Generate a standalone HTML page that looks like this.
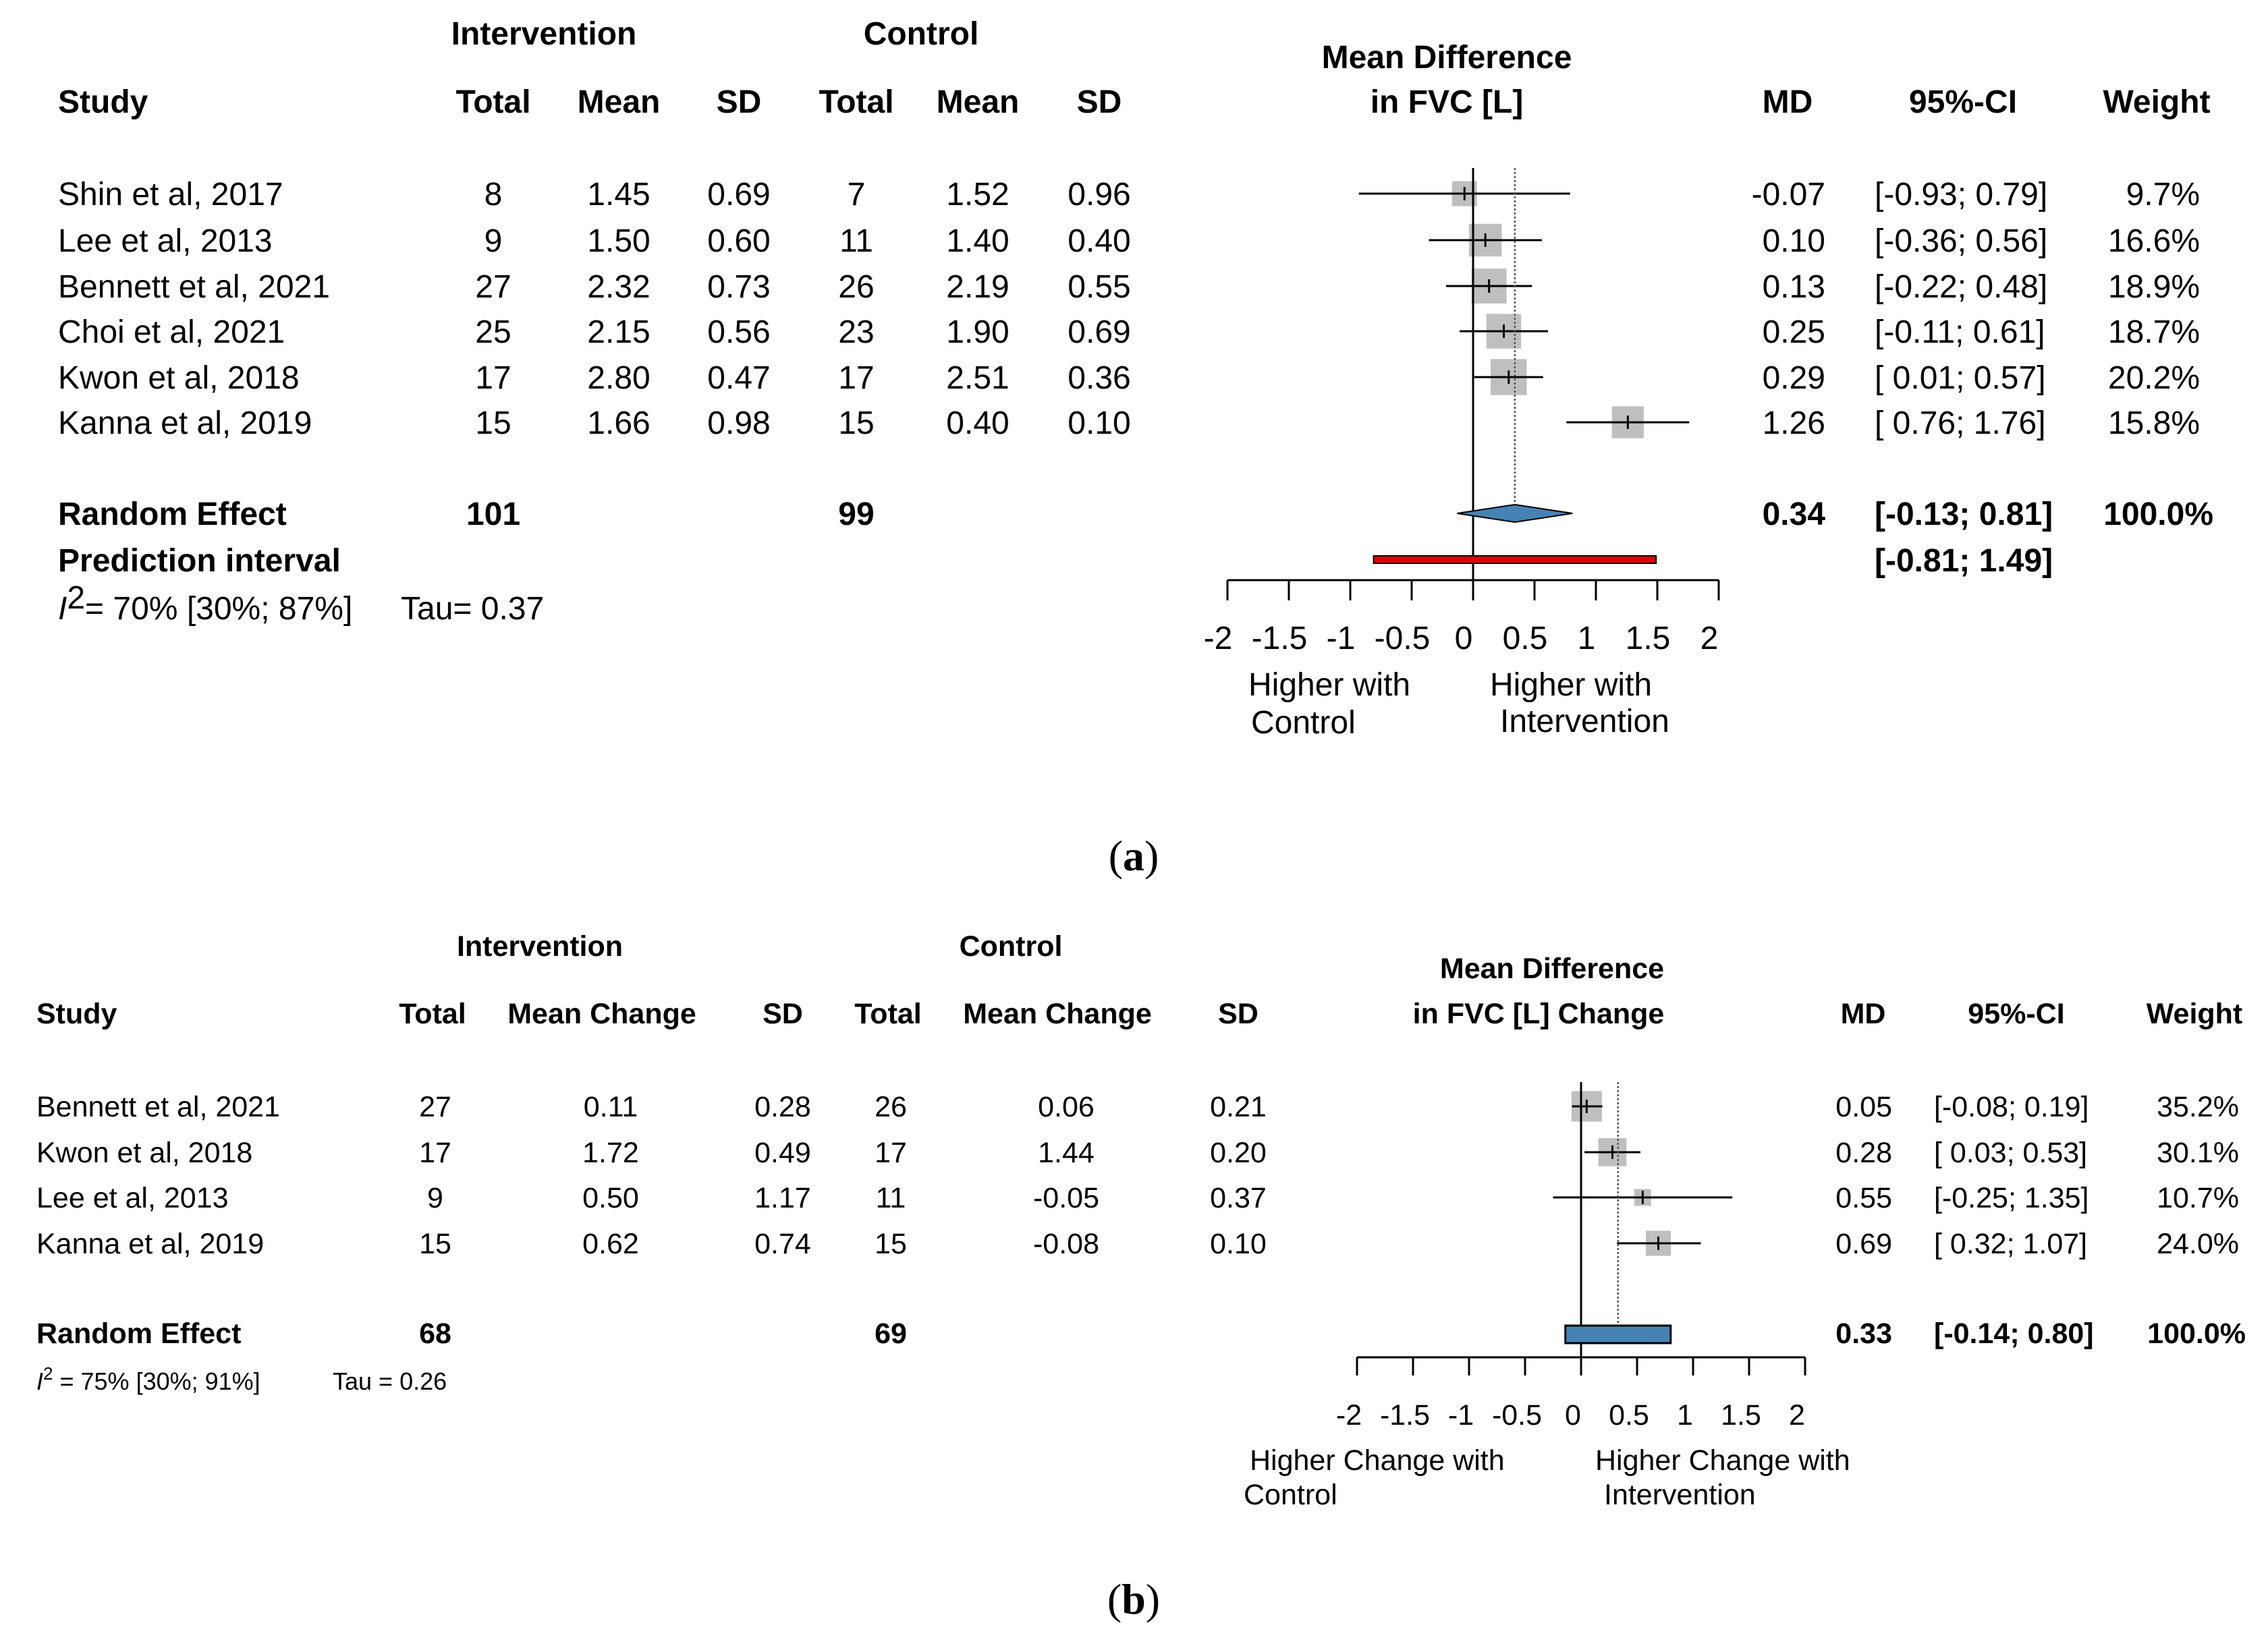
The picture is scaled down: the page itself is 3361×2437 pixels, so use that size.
<!DOCTYPE html>
<html><head><meta charset="utf-8"><style>
html,body{margin:0;padding:0;background:#fff}
svg{display:block}
text{font-family:"Liberation Sans",sans-serif;fill:#000}
.b{font-weight:bold}
</style></head><body>
<svg id="fig" width="3361" height="2437" viewBox="0 0 3361 2437" xmlns="http://www.w3.org/2000/svg">
<g id="pa" font-size="48"></g>
<g id="pb" font-size="43"></g>
<text x="1680" y="1290" font-size="64" text-anchor="middle" style="font-family:'Liberation Serif',serif">(<tspan font-weight="bold">a</tspan>)</text>
<text x="1680" y="2392" font-size="64" text-anchor="middle" style="font-family:'Liberation Serif',serif">(<tspan font-weight="bold">b</tspan>)</text>
</svg>
<script>
// ---- Panel A data ----
const aStudies=["Shin et al, 2017","Lee et al, 2013","Bennett et al, 2021","Choi et al, 2021","Kwon et al, 2018","Kanna et al, 2019"];
const aIntTotal=[8,9,27,25,17,15];
const aIntMean=["1.45","1.50","2.32","2.15","2.80","1.66"];
const aIntSD=["0.69","0.60","0.73","0.56","0.47","0.98"];
const aCtlTotal=[7,11,26,23,17,15];
const aCtlMean=["1.52","1.40","2.19","1.90","2.51","0.40"];
const aCtlSD=["0.96","0.40","0.55","0.69","0.36","0.10"];
const aMD=[-0.07,0.10,0.13,0.25,0.29,1.26];
const aLo=[-0.93,-0.36,-0.22,-0.11,0.01,0.76];
const aHi=[0.79,0.56,0.48,0.61,0.57,1.76];
const aWeight=[9.7,16.6,18.9,18.7,20.2,15.8];
const aPooled=[0.34,-0.13,0.81];
const aPred=[-0.81,1.49];
const aTicks=[-2,-1.5,-1,-0.5,0,0.5,1,1.5,2];
// ---- Panel B data ----
const bStudies=["Bennett et al, 2021","Kwon et al, 2018","Lee et al, 2013","Kanna et al, 2019"];
const bIntTotal=[27,17,9,15];
const bIntMean=["0.11","1.72","0.50","0.62"];
const bIntSD=["0.28","0.49","1.17","0.74"];
const bCtlTotal=[26,17,11,15];
const bCtlMean=["0.06","1.44","-0.05","-0.08"];
const bCtlSD=["0.21","0.20","0.37","0.10"];
const bMD=[0.05,0.28,0.55,0.69];
const bLo=[-0.08,0.03,-0.25,0.32];
const bHi=[0.19,0.53,1.35,1.07];
const bWeight=[35.2,30.1,10.7,24.0];
const bPooled=[0.33,-0.14,0.80];
const bTicks=[-2,-1.5,-1,-0.5,0,0.5,1,1.5,2];

const NS="http://www.w3.org/2000/svg";
function mk(parent,tag,attrs,txt){const e=document.createElementNS(NS,tag);for(const k in attrs)e.setAttribute(k,attrs[k]);if(txt!==undefined)e.textContent=txt;parent.appendChild(e);return e;}
function f2(v){return (v<0?"-":"")+Math.abs(v).toFixed(2);}
function ci(lo,hi){const l=lo<0?"-"+Math.abs(lo).toFixed(2):" "+lo.toFixed(2);return "["+l+"; "+hi.toFixed(2)+"]";}
function pct(w){return w.toFixed(1)+"%";}

function panel(g,cfg){
  const sx=v=>cfg.x0+v*cfg.unit;
  const off=cfg.off;
  cfg.heads.forEach(h=>{const t=mk(g,"text",{x:h[0],y:h[1]+off,"text-anchor":h[3],class:"b"},h[2]);
    
    });
  cfg.studies.forEach((s,i)=>{
    const y=cfg.rows[i];
    const cells=[[cfg.cx.study,s,"start"],[cfg.cx.it,String(cfg.it[i]),"middle"],[cfg.cx.im,cfg.im[i],"middle"],[cfg.cx.is,cfg.is[i],"middle"],
      [cfg.cx.ct,String(cfg.ct[i]),"middle"],[cfg.cx.cm,cfg.cm[i],"middle"],[cfg.cx.cs,cfg.cs[i],"middle"],
      [cfg.cx.md,f2(cfg.md[i]),"end"],[cfg.cx.ci,ci(cfg.lo[i],cfg.hi[i]),"start"],[cfg.cx.w,pct(cfg.w[i]),"end"]];
    cells.forEach(c=>{const t=mk(g,"text",{x:c[0],y:y+off,"text-anchor":c[2],"xml:space":"preserve"},c[1]);
      
      });
    const side=cfg.k*Math.sqrt(cfg.w[i]);
    const sq=mk(g,"rect",{x:sx(cfg.md[i])-side/2,y:y-side/2,width:side,height:side,fill:"#bfbfbf"});
    
    
    const ln=mk(g,"line",{x1:sx(cfg.lo[i]),x2:sx(cfg.hi[i]),y1:y,y2:y,stroke:"#000","stroke-width":3});
    
    
    const tk=mk(g,"line",{x1:sx(cfg.md[i]),x2:sx(cfg.md[i]),y1:y-10,y2:y+10,stroke:"#000","stroke-width":3});
    
    
  });
  const z=mk(g,"line",{x1:sx(0),x2:sx(0),y1:cfg.top,y2:cfg.axisY,stroke:"#000","stroke-width":3});
  
  
  const d=mk(g,"line",{x1:sx(cfg.pool[0]),x2:sx(cfg.pool[0]),y1:cfg.top,y2:cfg.poolY-12,stroke:"#555","stroke-width":2.5,"stroke-dasharray":"3,3"});
  
  
  const ax=mk(g,"line",{x1:sx(cfg.ticks[0]),x2:sx(cfg.ticks[cfg.ticks.length-1]),y1:cfg.axisY,y2:cfg.axisY,stroke:"#000","stroke-width":3});
  
  
  cfg.ticks.forEach(v=>{
    const l=mk(g,"line",{x1:sx(v),x2:sx(v),y1:cfg.axisY,y2:cfg.axisY+cfg.tickLen,stroke:"#000","stroke-width":3});
    
    
    const t=mk(g,"text",{x:sx(v)-cfg.labShift,y:cfg.tickLabY,"text-anchor":"middle"},String(v));
    
    
  });
}

const pa=document.getElementById("pa");
const cfgA={x0:2183,unit:182,off:17,k:11.9,top:249,axisY:860,tickLen:30,tickLabY:962,labShift:14,poolY:761,
  rows:[287,356,424,491,559,626],studies:aStudies,it:aIntTotal,im:aIntMean,is:aIntSD,ct:aCtlTotal,cm:aCtlMean,cs:aCtlSD,
  md:aMD,lo:aLo,hi:aHi,w:aWeight,pool:aPooled,ticks:aTicks,
  cx:{study:86,it:731,im:917,is:1095,ct:1269,cm:1449,cs:1629,md:2705,ci:2778,w:3260},
  heads:[[806,49,"Intervention","middle"],[1365,49,"Control","middle"],[86,150,"Study","start"],[731,150,"Total","middle"],[917,150,"Mean","middle"],[1095,150,"SD","middle"],
   [1269,150,"Total","middle"],[1449,150,"Mean","middle"],[1629,150,"SD","middle"],[2144,84,"Mean Difference","middle"],[2144,150,"in FVC [L]","middle"],
   [2649,150,"MD","middle"],[2909,150,"95%-CI","middle"],[3196,150,"Weight","middle"]]};
panel(pa,cfgA);
{
  const sx=v=>cfgA.x0+v*cfgA.unit, y=761;
  const dm=mk(pa,"polygon",{points:`${sx(aPooled[1])},${y} ${sx(aPooled[0])},${y-13} ${sx(aPooled[2])},${y} ${sx(aPooled[0])},${y+13}`,fill:"#4682b4",stroke:"#000","stroke-width":2});
  
  
  const pr=mk(pa,"rect",{x:sx(aPred[0]),y:824,width:sx(aPred[1])-sx(aPred[0]),height:11,fill:"#e00000",stroke:"#000","stroke-width":2});
  
  
  const sum=[[86,778,"Random Effect","start",1],[731,778,"101","middle",1],[1269,778,"99","middle",1],[2705,778,f2(aPooled[0]),"end",1],[2778,778,ci(aPooled[1],aPooled[2]),"start",1],[3280,778,"100.0%","end",1],
    [86,847,"Prediction interval","start",1],[2778,847,ci(aPred[0],aPred[1]),"start",1],
    [1850,1031,"Higher with","start",0],[1854,1087,"Control","start",0],[2208,1031,"Higher with","start",0],[2223,1085,"Intervention","start",0],[594,918,"Tau= 0.37","start",0]];
  sum.forEach(s=>{const t=mk(pa,"text",{x:s[0],y:s[1],"text-anchor":s[3],class:s[4]?"b":"","xml:space":"preserve"},s[2]);
    
    });
  const i2=mk(pa,"text",{x:86,y:918});
  
  
  i2.innerHTML='<tspan font-style="italic">I</tspan><tspan dy="-16">2</tspan><tspan dy="16">= 70% [30%; 87%]</tspan>';
}

const pb=document.getElementById("pb");
const cfgB={x0:2343,unit:166,off:15,k:7.6,top:1604,axisY:2012,tickLen:27,tickLabY:2112,labShift:12,poolY:1978,
  rows:[1640,1708,1775,1843],studies:bStudies,it:bIntTotal,im:bIntMean,is:bIntSD,ct:bCtlTotal,cm:bCtlMean,cs:bCtlSD,
  md:bMD,lo:bLo,hi:bHi,w:bWeight,pool:bPooled,ticks:bTicks,
  cx:{study:54,it:645,im:905,is:1160,ct:1320,cm:1580,cs:1835,md:2804,ci:2866,w:3318},
  heads:[[800,1402,"Intervention","middle"],[1498,1402,"Control","middle"],[54,1502,"Study","start"],[641,1502,"Total","middle"],[892,1502,"Mean Change","middle"],[1160,1502,"SD","middle"],
   [1316,1502,"Total","middle"],[1567,1502,"Mean Change","middle"],[1835,1502,"SD","middle"],[2300,1435,"Mean Difference","middle"],[2280,1502,"in FVC [L] Change","middle"],
   [2761,1502,"MD","middle"],[2988,1502,"95%-CI","middle"],[3252,1502,"Weight","middle"]]};
panel(pb,cfgB);
{
  const sx=v=>cfgB.x0+v*cfgB.unit;
  const bx=mk(pb,"rect",{x:sx(bPooled[1]),y:1965,width:sx(bPooled[2])-sx(bPooled[1]),height:26,fill:"#4682b4",stroke:"#000","stroke-width":3});
  
  
  const sum=[[54,1991,"Random Effect","start",1],[645,1991,"68","middle",1],[1320,1991,"69","middle",1],[2804,1991,f2(bPooled[0]),"end",1],[2866,1991,ci(bPooled[1],bPooled[2]),"start",1],[3328,1991,"100.0%","end",1],
    [1852,2179,"Higher Change with","start",0],[1843,2230,"Control","start",0],[2364,2179,"Higher Change with","start",0],[2377,2230,"Intervention","start",0]];
  sum.forEach(s=>{const t=mk(pb,"text",{x:s[0],y:s[1],"text-anchor":s[3],class:s[4]?"b":"","xml:space":"preserve"},s[2]);
    
    });
  const i2=mk(pb,"text",{x:54,y:2060,"font-size":36});
  
  
  i2.innerHTML='<tspan font-style="italic">I</tspan><tspan dy="-15" font-size="26">2</tspan><tspan dy="15"> = 75% [30%; 91%]</tspan>';
  const tau=mk(pb,"text",{x:493,y:2060,"font-size":36},"Tau = 0.26");
  
  
}
</script>
</body></html>
